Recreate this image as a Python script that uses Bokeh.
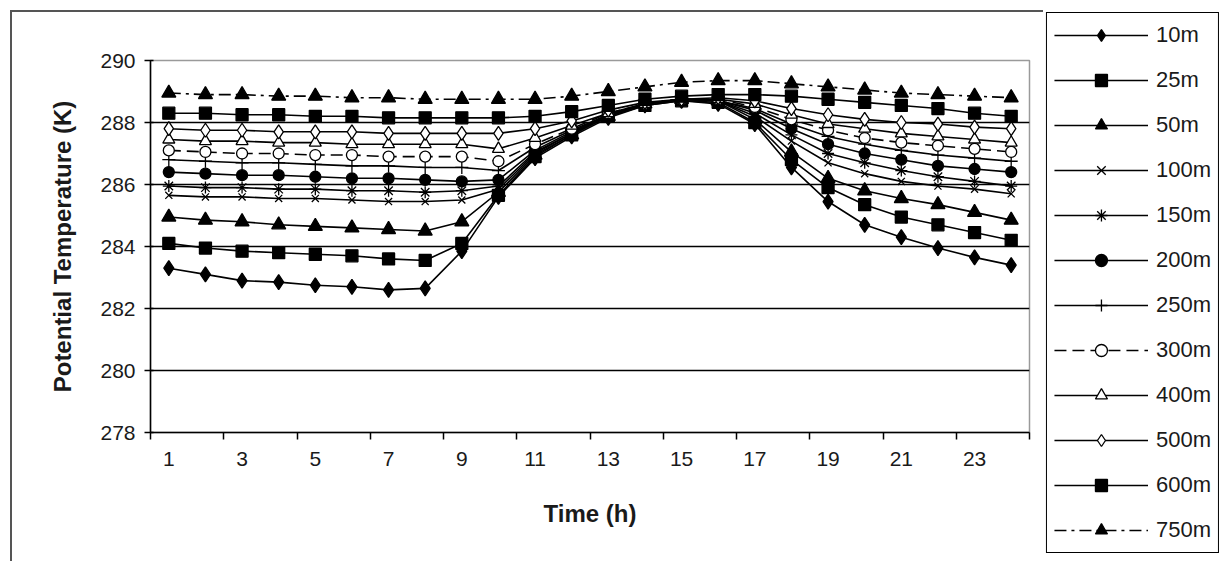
from bokeh.plotting import figure
from bokeh.layouts import row, column
from bokeh.models import FixedTicker, Legend, LegendItem
from bokeh.embed import file_html
from bokeh.resources import INLINE

hours = list(range(1, 25))
x_tick_labels = [str(h) for h in range(1, 24, 2)]
y_ticks = [278, 280, 282, 284, 286, 288, 290]

t10 = [283.3, 283.1, 282.9, 282.85, 282.75, 282.7, 282.6, 282.65, 283.85, 285.6, 286.85, 287.55, 288.15, 288.55, 288.7, 288.6, 287.95, 286.55, 285.45, 284.7, 284.3, 283.95, 283.65, 283.4]
t25 = [284.1, 283.95, 283.85, 283.8, 283.75, 283.7, 283.6, 283.55, 284.1, 285.65, 286.9, 287.6, 288.2, 288.55, 288.7, 288.65, 288.0, 286.8, 285.9, 285.35, 284.95, 284.7, 284.45, 284.2]
t50 = [284.95, 284.85, 284.8, 284.7, 284.65, 284.6, 284.55, 284.5, 284.8, 285.75, 286.95, 287.6, 288.2, 288.6, 288.75, 288.7, 288.1, 287.05, 286.2, 285.8, 285.55, 285.35, 285.1, 284.85]
t100 = [285.65, 285.6, 285.6, 285.55, 285.55, 285.5, 285.45, 285.45, 285.5, 285.85, 287.0, 287.65, 288.2, 288.6, 288.75, 288.7, 288.2, 287.4, 286.7, 286.35, 286.1, 285.95, 285.85, 285.7]
t150 = [285.95, 285.9, 285.9, 285.85, 285.85, 285.8, 285.8, 285.75, 285.8, 285.95, 287.05, 287.65, 288.25, 288.6, 288.75, 288.7, 288.3, 287.6, 287.0, 286.7, 286.45, 286.25, 286.1, 285.95]
t200 = [286.4, 286.35, 286.3, 286.3, 286.25, 286.2, 286.2, 286.15, 286.1, 286.15, 287.1, 287.7, 288.25, 288.6, 288.75, 288.7, 288.4, 287.8, 287.3, 287.0, 286.8, 286.6, 286.5, 286.4]
t250 = [286.8, 286.75, 286.7, 286.7, 286.65, 286.6, 286.6, 286.55, 286.55, 286.45, 287.2, 287.75, 288.25, 288.6, 288.75, 288.7, 288.45, 287.95, 287.55, 287.3, 287.1, 286.95, 286.85, 286.75]
t300 = [287.1, 287.05, 287.0, 287.0, 286.95, 286.95, 286.9, 286.9, 286.9, 286.75, 287.3, 287.8, 288.3, 288.6, 288.75, 288.75, 288.5, 288.1, 287.75, 287.5, 287.35, 287.25, 287.15, 287.05]
t400 = [287.45, 287.4, 287.4, 287.35, 287.35, 287.3, 287.3, 287.3, 287.3, 287.15, 287.5, 287.9, 288.3, 288.6, 288.75, 288.75, 288.6, 288.25, 287.95, 287.8, 287.65, 287.55, 287.45, 287.35]
t500 = [287.8, 287.75, 287.75, 287.7, 287.7, 287.7, 287.65, 287.65, 287.65, 287.65, 287.8, 288.05, 288.4, 288.65, 288.75, 288.8, 288.7, 288.45, 288.25, 288.1, 288.0, 287.95, 287.85, 287.8]
t600 = [288.3, 288.3, 288.25, 288.25, 288.2, 288.2, 288.15, 288.15, 288.15, 288.15, 288.2, 288.35, 288.55, 288.75, 288.85, 288.9, 288.9, 288.85, 288.75, 288.65, 288.55, 288.45, 288.3, 288.2]
t750 = [288.95, 288.9, 288.9, 288.85, 288.85, 288.8, 288.8, 288.75, 288.75, 288.75, 288.75, 288.85, 289.0, 289.15, 289.3, 289.35, 289.35, 289.25, 289.15, 289.05, 288.95, 288.9, 288.85, 288.8]

series_names = ["10m", "25m", "50m", "100m", "150m", "200m", "250m", "300m", "400m", "500m", "600m", "750m"]
series_values = [t10, t25, t50, t100, t150, t200, t250, t300, t400, t500, t600, t750]

# style per series: marker, size, fill, line dash
styles = [
    ("diamond", 15, "black", "solid"),
    ("square", 12, "black", "solid"),
    ("triangle", 14, "black", "solid"),
    ("x", 10, "black", "solid"),
    ("asterisk", 12, "black", "solid"),
    ("circle", 11, "black", "solid"),
    ("cross", 13, "black", "solid"),
    ("circle", 11, "white", "12 6"),
    ("triangle", 12, "white", "solid"),
    ("diamond", 14, "white", "solid"),
    ("square", 12, "black", "solid"),
    ("triangle", 14, "black", "12 5 3 5"),
]

FONT = "Liberation Sans"
TXT = "#1a1a1a"

# ---- main chart ----
p = figure(width=1043, height=561, output_backend="svg", toolbar_location=None,
           x_range=(0.5, 24.5), y_range=(278, 290),
           min_border_left=150, min_border_right=14, min_border_top=60, min_border_bottom=129)
p.background_fill_color = "white"
p.border_fill_alpha = 0
p.outline_line_color = "#9a9a9a"
p.outline_line_width = 1.5
p.styles = {
    "background-color": "white",
    "background-image": "linear-gradient(#555555, #555555), linear-gradient(#555555, #555555)",
    "background-position": "10px 10px, 10px 10px",
    "background-size": "2px 100%, 100% 2px",
    "background-repeat": "no-repeat",
}

for name, vals, (mk, sz, fill, dash) in zip(series_names, series_values, styles):
    p.line(hours, vals, line_color="black", line_width=1.6, line_dash=dash)
    p.scatter(hours, vals, marker=mk, size=sz, line_color="black", line_width=1.3,
              fill_color=fill)

xa = p.xaxis[0]
xa.ticker = FixedTicker(ticks=[float(s) for s in x_tick_labels],
                        minor_ticks=[0.5 + 2 * i for i in range(13)])
xa.major_tick_line_color = None
xa.minor_tick_line_color = "black"
xa.minor_tick_line_width = 1.5
xa.minor_tick_out = 7
xa.minor_tick_in = 0
xa.major_tick_out = 7
xa.major_label_standoff = 12
xa.axis_line_color = "black"
xa.axis_line_width = 1.5
xa.axis_label = "Time (h)"
xa.axis_label_standoff = 31
for a in (p.xaxis[0], p.yaxis[0]):
    a.major_label_text_font = FONT
    a.major_label_text_font_size = "21px"
    a.major_label_text_color = TXT
    a.axis_label_text_font = FONT
    a.axis_label_text_font_size = "24px"
    a.axis_label_text_font_style = "bold"
    a.axis_label_text_color = TXT

ya = p.yaxis[0]
ya.ticker = FixedTicker(ticks=y_ticks)
ya.major_tick_line_color = "black"
ya.major_tick_line_width = 1.5
ya.major_tick_out = 6
ya.major_tick_in = 3
ya.minor_tick_line_color = None
ya.major_label_standoff = 9
ya.axis_line_color = "black"
ya.axis_line_width = 1.5
ya.axis_label = "Potential Temperature (K)"
ya.axis_label_standoff = 21

p.xgrid.grid_line_color = None
p.ygrid.ticker = FixedTicker(ticks=[280, 282, 284, 286, 288])
p.ygrid.grid_line_color = "black"
p.ygrid.grid_line_width = 1.6

# ---- legend panel (same series; their marks fall outside this panel's range) ----
pl = figure(width=188, height=561, output_backend="svg", toolbar_location=None,
            x_range=(0.5, 24.5), y_range=(0, 1),
            min_border_left=0, min_border_right=0, min_border_top=0, min_border_bottom=0)
pl.xaxis.visible = False
pl.yaxis.visible = False
pl.grid.visible = False
pl.outline_line_color = None
pl.background_fill_color = "white"
pl.border_fill_color = "white"

items = []
for name, vals, (mk, sz, fill, dash) in zip(series_names, series_values, styles):
    ln = pl.line(hours, vals, line_color="black", line_width=1.6, line_dash=dash)
    sc = pl.scatter(hours, vals, marker=mk, size=sz, line_color="black", line_width=1.3,
                    fill_color=fill)
    items.append(LegendItem(label=name, renderers=[ln, sc]))

legend = Legend(items=items, location="top_right")
legend.glyph_width = 94
legend.glyph_height = 30
legend.label_height = 30
legend.spacing = 15
legend.padding = 7
legend.margin = 12
legend.label_standoff = 8
legend.label_text_font = FONT
legend.label_text_font_size = "22px"
legend.label_text_color = TXT
legend.border_line_color = "black"
legend.border_line_alpha = 1.0
legend.border_line_width = 1.5
legend.background_fill_color = "white"
legend.background_fill_alpha = 1.0
pl.add_layout(legend, "center")

layout = row(p, column(pl))
open("out.html", "w").write(file_html(layout, INLINE))
